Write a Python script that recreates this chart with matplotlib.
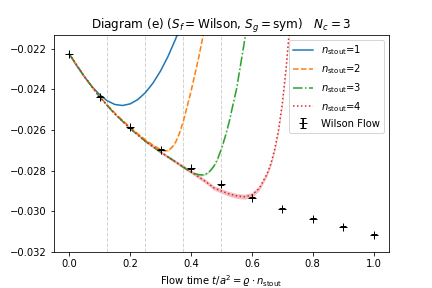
import numpy as np
import matplotlib.pyplot as plt

# Wilson flow reference points
t_wilson = [0.0, 0.1, 0.2, 0.3, 0.4, 0.5, 0.6, 0.7, 0.8, 0.9, 1.0]
y_wilson = [-0.02225, -0.02435, -0.02586, -0.02696, -0.02789, -0.02867,
            -0.02933, -0.02987, -0.03036, -0.03075, -0.03114]
e_wilson = [0.00001, 0.00001, 0.00002, 0.00002, 0.00002, 0.00003,
            0.00003, 0.00003, 0.00004, 0.00004, 0.00004]

# stout smearing curves (values in 1e-5)
t_n1 = [0.0, 0.025, 0.05, 0.075, 0.1, 0.125, 0.15, 0.175, 0.2, 0.225,
        0.25, 0.275, 0.3, 0.325, 0.35, 0.375]
y_n1 = [-2225, -2284, -2338, -2386, -2426, -2456, -2474, -2479, -2471, -2450,
        -2416, -2369, -2309, -2236, -2150, -2051]
e_n1 = [0.3, 0.4, 0.5, 0.6, 0.7, 0.8, 0.9, 1.0, 1.1, 1.2,
        1.3, 1.4, 1.5, 1.6, 1.7, 1.8]

t_n2 = [0.0, 0.025, 0.05, 0.075, 0.1, 0.125, 0.15, 0.175, 0.2, 0.225,
        0.25, 0.275, 0.3, 0.3125, 0.325, 0.3375, 0.35, 0.3625, 0.375, 0.4,
        0.425, 0.45]
y_n2 = [-2225, -2284, -2338, -2388, -2435, -2477, -2516, -2552, -2586, -2618,
        -2648, -2674, -2696, -2702, -2700, -2685, -2658, -2614, -2556, -2410,
        -2245, -2060]
e_n2 = [0.5, 0.8, 1.0, 1.3, 1.6, 2.0, 2.4, 2.8, 3.2, 3.6,
        4.0, 4.2, 4.5, 4.5, 4.6, 4.7, 4.8, 4.9, 5.0, 5.2,
        5.4, 5.6]

t_n3 = [0.0, 0.05, 0.1, 0.15, 0.2, 0.25, 0.3, 0.35, 0.375, 0.4,
        0.4125, 0.425, 0.4375, 0.45, 0.4625, 0.475, 0.4875, 0.5, 0.5125, 0.525,
        0.55, 0.575, 0.6]
y_n3 = [-2225, -2337, -2437, -2521, -2592, -2655, -2708, -2757, -2783, -2806,
        -2814, -2819, -2821, -2815, -2801, -2778, -2742, -2692, -2632, -2562,
        -2395, -2170, -1920]
e_n3 = [0.5, 1.0, 1.5, 2.0, 2.5, 3.0, 3.5, 4.0, 4.2, 4.5,
        4.6, 4.8, 4.9, 5.0, 5.1, 5.2, 5.4, 5.5, 5.6, 5.8,
        6.0, 6.2, 6.5]

t_n4 = [0.0, 0.05, 0.1, 0.15, 0.2, 0.25, 0.3, 0.35, 0.4, 0.45,
        0.475, 0.5, 0.525, 0.55, 0.575, 0.6, 0.625, 0.65, 0.6625, 0.675,
        0.6875, 0.7, 0.7125, 0.725, 0.75]
y_n4 = [-2225, -2337, -2437, -2521, -2592, -2655, -2708, -2757, -2805, -2855,
        -2884, -2900, -2914, -2924, -2928, -2920, -2885, -2815, -2765, -2695,
        -2600, -2470, -2295, -2080, -1600]
e_n4 = [1.0, 2.0, 3.0, 4.0, 5.0, 6.0, 7.0, 8.0, 9.0, 10.0,
        10.5, 11.0, 11.5, 12.0, 12.0, 12.0, 12.0, 12.0, 12.0, 12.0,
        12.0, 12.0, 12.0, 12.0, 12.0]

v_lines = [0.125, 0.25, 0.375, 0.5]

fig, ax = plt.subplots(figsize=(6, 4), dpi=72)
fig.subplots_adjust(bottom=0.125)

for x in v_lines:
    ax.axvline(x, color='lightgrey', ls='--', lw=1)

curves = [(t_n1, y_n1, e_n1, '-', 'C0'),
          (t_n2, y_n2, e_n2, '--', 'C1'),
          (t_n3, y_n3, e_n3, '-.', 'C2'),
          (t_n4, y_n4, e_n4, ':', 'C3')]
for i, (t, y, e, ls, c) in enumerate(curves):
    t = np.array(t)
    y = np.array(y) * 1e-5
    e = np.array(e) * 1e-5
    ax.fill_between(t, y - e, y + e, color=c, alpha=0.3, lw=0)
    ax.plot(t, y, ls=ls, color=c, label=r'$n_{\rm stout}$=%d' % (i + 1))

ax.errorbar(t_wilson, y_wilson, yerr=e_wilson, fmt='k+', ms=8, capsize=3,
            label='Wilson Flow')

ax.set_ylim(-0.032, -0.0213)
ax.set_title(r'Diagram (e) ($S_f=$Wilson, $S_g=$sym)   $N_c=3$')
ax.set_xlabel(r'Flow time $t/a^2 = \varrho \cdot n_{\rm stout}$')
ax.legend(loc='upper right')

fig.savefig('out.png')
